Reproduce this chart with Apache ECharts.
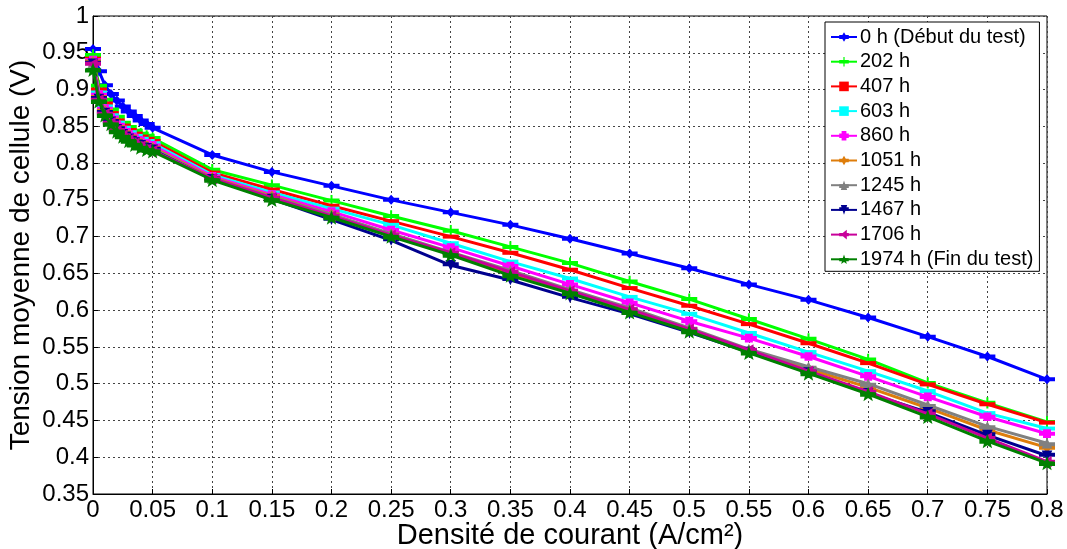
<!DOCTYPE html>
<html>
<head>
<meta charset="utf-8">
<script src="https://cdn.jsdelivr.net/npm/echarts@6/dist/echarts.min.js"></script>
<style>html,body{margin:0;padding:0;background:#fff}#c{width:1067px;height:549px}</style>
</head>
<body>
<div id="c"></div>
<script>
const currentDensity = [0,0.005,0.01,0.015,0.02,0.025,0.03,0.035,0.04,0.045,0.05,0.1,0.15,0.2,0.25,0.3,0.35,0.4,0.45,0.5,0.55,0.6,0.65,0.7,0.75,0.8];
const seriesNames = ['0 h (Début du test)','202 h','407 h','603 h','860 h','1051 h','1245 h','1467 h','1706 h','1974 h (Fin du test)'];
const v0h   = [0.955,0.925,0.906,0.894,0.885,0.877,0.870,0.864,0.858,0.853,0.848,0.811,0.788,0.769,0.750,0.733,0.716,0.697,0.677,0.657,0.635,0.614,0.590,0.564,0.537,0.506];
const v202h = [0.947,0.905,0.886,0.873,0.863,0.855,0.849,0.844,0.840,0.837,0.834,0.791,0.770,0.749,0.728,0.708,0.686,0.664,0.639,0.615,0.588,0.561,0.533,0.501,0.474,0.448];
const v407h = [0.942,0.900,0.881,0.868,0.858,0.851,0.845,0.840,0.836,0.833,0.830,0.787,0.764,0.742,0.721,0.700,0.678,0.655,0.630,0.606,0.581,0.555,0.528,0.499,0.472,0.447];
const v603h = [0.940,0.896,0.877,0.865,0.855,0.848,0.842,0.837,0.833,0.830,0.827,0.784,0.760,0.738,0.716,0.691,0.666,0.643,0.618,0.595,0.569,0.543,0.517,0.490,0.460,0.439];
const v860h = [0.940,0.893,0.874,0.862,0.852,0.845,0.839,0.834,0.830,0.827,0.824,0.782,0.757,0.734,0.709,0.685,0.660,0.635,0.610,0.585,0.562,0.537,0.510,0.482,0.455,0.432];
const v1051h = [0.938,0.890,0.871,0.859,0.849,0.842,0.836,0.831,0.827,0.823,0.821,0.780,0.755,0.730,0.703,0.677,0.650,0.625,0.600,0.574,0.545,0.520,0.495,0.467,0.437,0.413];
const v1245h = [0.937,0.889,0.870,0.858,0.848,0.841,0.835,0.830,0.826,0.822,0.820,0.779,0.754,0.730,0.704,0.679,0.654,0.628,0.603,0.576,0.547,0.523,0.500,0.471,0.442,0.419];
const v1467h = [0.935,0.887,0.868,0.856,0.846,0.839,0.833,0.828,0.824,0.820,0.818,0.778,0.751,0.723,0.695,0.661,0.641,0.617,0.595,0.570,0.543,0.515,0.487,0.461,0.430,0.402];
const v1706h = [0.935,0.886,0.867,0.855,0.845,0.838,0.832,0.827,0.823,0.819,0.817,0.779,0.753,0.728,0.702,0.678,0.652,0.626,0.601,0.574,0.546,0.517,0.489,0.459,0.426,0.394];
const v1974h = [0.927,0.884,0.865,0.853,0.843,0.836,0.830,0.825,0.821,0.818,0.816,0.777,0.750,0.726,0.700,0.675,0.647,0.623,0.597,0.571,0.542,0.514,0.486,0.455,0.422,0.392];
const xTickInterval = 0.05;
const yMin = 0.35, yMax = 1, yTickInterval = 0.05;

const allValues = [v0h,v202h,v407h,v603h,v860h,v1051h,v1245h,v1467h,v1706h,v1974h];
const colors = ['#0000ff','#00ff00','#ff0000','#00ffff','#ff00ff','#de7d0b','#808080','#00008f','#c8009a','#008000'];
const bar = 'M0 9.5H24V15.5H0Z';
const shapes = [
  'M12 5L19 12.5L12 20L5 12.5Z',
  'M10.5 4H13.5V21H10.5Z',
  '',
  '',
  'M6 6H18V19H6Z',
  'M12 4L19 12.5L12 21L5 12.5Z',
  'M12 3L20 19H4Z',
  'M4 6H20L12 22Z',
  'M4 12.5L19 4V21Z',
  'M12 0.5L14.94 8.45L23.41 8.79L16.76 14.05L19.05 22.21L12 17.5L4.95 22.21L7.24 14.05L0.59 8.79L9.06 8.45Z'
];
const fmt = v => String(+(+v).toFixed(2));
const font = "'Liberation Sans', Arial, sans-serif";

const series = seriesNames.map((name, i) => ({
  name,
  type: 'line',
  data: currentDensity.map((x, k) => [x, allValues[i][k]]),
  symbol: 'path://' + bar + shapes[i],
  symbolKeepAspect: true,
  symbolSize: 16,
  showAllSymbol: true,
  lineStyle: { width: 3, color: colors[i] },
  itemStyle: { color: colors[i] },
  emphasis: { disabled: true },
  animation: false,
  z: 2 + i
}));

const chart = echarts.init(document.getElementById('c'), null, { renderer: 'canvas' });
chart.setOption({
  animation: false,
  color: colors,
  grid: { left: 93, right: 20, top: 16, bottom: 55, outerBoundsMode: 'none', containLabel: false, show: true, borderColor: '#000', borderWidth: 1, backgroundColor: '#fff' },
  xAxis: {
    type: 'value', min: 0, max: 0.8, interval: xTickInterval,
    name: 'Densité de courant (A/cm²)', nameLocation: 'middle', nameGap: 27, nameMoveOverlap: false,
    nameTextStyle: { fontFamily: font, fontSize: 29, color: '#000' },
    axisLine: { show: true, onZero: false, lineStyle: { color: '#000', width: 1 } },
    axisTick: { show: true, inside: true, length: 5, lineStyle: { color: '#000' } },
    axisLabel: { formatter: fmt, fontFamily: font, fontSize: 24, color: '#000', margin: 4, showMinLabel: true, showMaxLabel: true },
    splitLine: { show: true, lineStyle: { color: '#444', type: [2, 3], width: 1 } }
  },
  yAxis: {
    type: 'value', min: yMin, max: yMax, interval: yTickInterval,
    name: 'Tension moyenne de cellule (V)', nameLocation: 'middle', nameGap: 58, nameMoveOverlap: false,
    nameTextStyle: { fontFamily: font, fontSize: 28, color: '#000' },
    axisLine: { show: true, lineStyle: { color: '#000', width: 1 } },
    axisTick: { show: true, inside: true, length: 5, lineStyle: { color: '#000' } },
    axisLabel: { formatter: fmt, fontFamily: font, fontSize: 24, color: '#000', margin: 4, showMinLabel: true, showMaxLabel: true },
    splitLine: { show: true, lineStyle: { color: '#444', type: [2, 3], width: 1 } }
  },
  legend: {
    orient: 'vertical', left: 825, top: 22,
    backgroundColor: '#fff', borderColor: '#000', borderWidth: 1,
    padding: [5, 6, 2, 5],
    itemWidth: 26, itemHeight: 12, itemGap: 4.7,
    textStyle: { fontFamily: font, fontSize: 20, color: '#000', lineHeight: 20, padding: [0, 0, 0, -2] },
    data: seriesNames
  },
  series
});
</script>
</body>
</html>
